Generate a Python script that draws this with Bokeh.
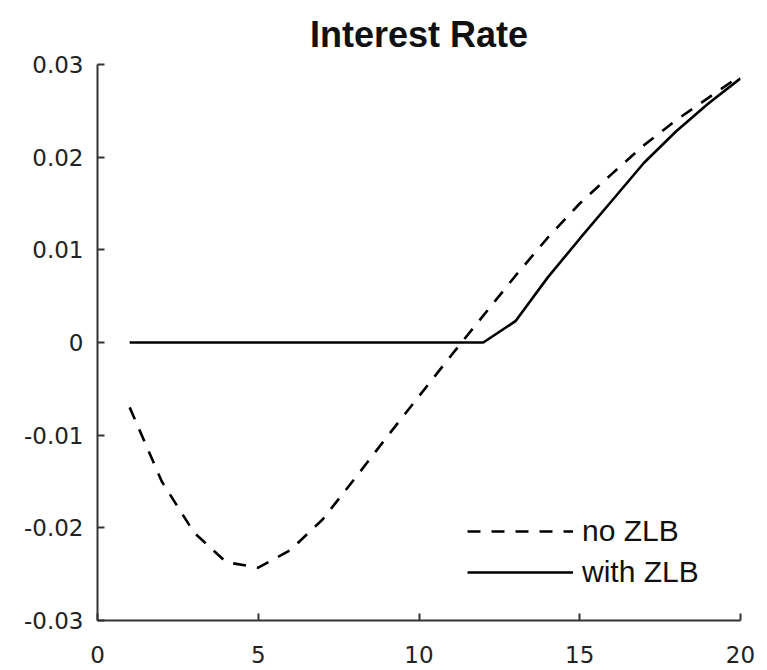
from bokeh.plotting import figure
from bokeh.models import Range1d, FixedTicker, Legend, LegendItem
from bokeh.embed import file_html
from bokeh.resources import INLINE

# ---- data ----
periods = list(range(1, 21))
no_zlb = [-0.0070, -0.0150, -0.0205, -0.0237, -0.0243, -0.0224, -0.0191, -0.0147,
          -0.0102, -0.0058, -0.0014, 0.0029, 0.0072, 0.0113, 0.0150, 0.0182,
          0.0213, 0.0240, 0.0264, 0.0288]
with_zlb = [0.0, 0.0, 0.0, 0.0, 0.0, 0.0, 0.0, 0.0, 0.0, 0.0, 0.0, 0.0,
            0.0023, 0.0070, 0.0112, 0.0153, 0.0194, 0.0228, 0.0258, 0.0285]
x_ticks = [0, 5, 10, 15, 20]
x_tick_labels = ["0", "5", "10", "15", "20"]
y_ticks = [-0.03, -0.02, -0.01, 0, 0.01, 0.02, 0.03]
y_tick_labels = ["-0.03", "-0.02", "-0.01", "0", "0.01", "0.02", "0.03"]
title_text = "Interest Rate"
series_labels = ["no ZLB", "with ZLB"]

p = figure(width=767, height=670, output_backend="svg", toolbar_location=None,
           x_range=Range1d(0, 20), y_range=Range1d(-0.03, 0.03),
           min_border_left=97, min_border_right=27, min_border_top=64, min_border_bottom=50)

p.title.text = title_text
p.title.text_font = "Liberation Sans"
p.title.text_font_size = "36px"
p.title.text_font_style = "bold"
p.title.align = "center"
p.title.vertical_align = "top"
p.title.text_line_height = 0.6
p.title.text_color = "#111111"
p.title.standoff = 15

p.outline_line_color = None
p.xgrid.visible = False
p.ygrid.visible = False
p.background_fill_color = "white"
p.border_fill_color = "white"

for ax in (p.xaxis[0], p.yaxis[0]):
    ax.axis_line_color = "#333333"
    ax.axis_line_width = 2
    ax.major_tick_line_color = "#333333"
    ax.major_tick_line_width = 2
    ax.major_tick_in = 7
    ax.major_tick_out = 0
    ax.minor_tick_line_color = None
    ax.major_label_text_font = "DejaVu Sans"
    ax.major_label_text_font_size = "23px"
    ax.major_label_text_color = "#222222"

p.xaxis[0].ticker = FixedTicker(ticks=x_ticks)
p.xaxis[0].major_label_overrides = {t: l for t, l in zip(x_ticks, x_tick_labels)}
p.xaxis[0].major_label_standoff = 25
p.yaxis[0].ticker = FixedTicker(ticks=y_ticks)
p.yaxis[0].major_label_overrides = {t: l for t, l in zip(y_ticks, y_tick_labels)}
p.yaxis[0].major_label_standoff = 14

r1 = p.line(periods, no_zlb, line_color="black", line_width=2.6, line_dash="13 11")
r2 = p.line(periods, with_zlb, line_color="black", line_width=2.6)

legend = Legend(items=[LegendItem(label=series_labels[0], renderers=[r1]),
                       LegendItem(label=series_labels[1], renderers=[r2])],
                location=(370, 31))
legend.label_text_font = "Liberation Sans"
legend.label_text_font_size = "30px"
legend.label_text_color = "#111111"
legend.glyph_width = 106
legend.glyph_height = 30
legend.label_height = 30
legend.spacing = 7
legend.label_standoff = 9
legend.padding = 0
legend.margin = 0
legend.border_line_color = None
legend.background_fill_alpha = 0
p.add_layout(legend, "center")

open("out.html", "w").write(file_html(p, INLINE))
